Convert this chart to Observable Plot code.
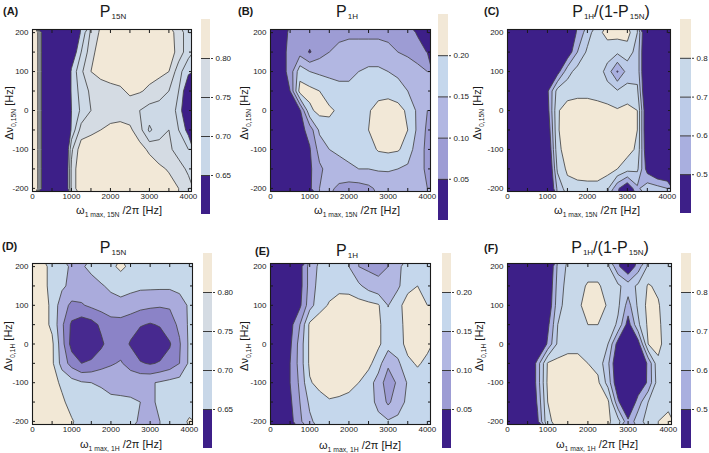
<!DOCTYPE html>
<html>
<head>
<meta charset="utf-8">
<script src="https://cdn.jsdelivr.net/npm/d3@7"></script>
<script src="https://cdn.jsdelivr.net/npm/@observablehq/plot@0.6"></script>
<style>
  body { margin: 0; background: #fff; }
  #root { position: relative; width: 709px; height: 453px; overflow: hidden; background: #fff;
          font-family: "Liberation Sans", Arial, sans-serif; color: #1a1a1a; }
  .box { position: absolute; }
  .lbl { position: absolute; white-space: nowrap; line-height: 1; }
  .sb { position: relative; top: 0.45em; font-size: 0.62em; }
  .tsb { position: relative; top: 0.3em; font-size: 8px; margin-left: 1px; }
</style>
</head>
<body>
<div id="root"></div>
<script>
// ---------- grid / ticks ----------
const xGrid = [0,250,500,750,1000,1250,1500,1750,2000,2250,2500,2750,3000,3250,3500,3750,4000];
const yGrid = [200,150,100,50,0,-50,-100,-150,-200];
const xTicks = [0,1000,2000,3000,4000];
const yTicks = [-200,-100,0,100,200];
const xMinor = [0,500,1000,1500,2000,2500,3000,3500,4000];
const yMinor = [-200,-150,-100,-50,0,50,100,150,200];

// ---------- contour levels ----------
const thrP15N = [0.65,0.70,0.75,0.80];
const thrP1H = [0.05,0.10,0.15,0.20];
const thrRatio = [0.5,0.6,0.7,0.8];

// ---------- colours ----------
const colP15N = ["#3d1f88","#c8d7e8","#cdd9e6","#d4dbe3","#f2e8d7"];
const colP15N_D = ["#47298f","#8b83c7","#aaabdc","#c6d8ea","#f2e8d6"];
const colP1H = ["#3d1f88","#9d9cd4","#b2b7e2","#c5d7ec","#f2e8d7"];
const colRatio = ["#3d1f88","#a9afdf","#bccbe8","#c8d8e9","#f2e8d6"];

// ---------- values (rows: y = 200 ... -200, columns: x = 0 ... 4000) ----------
const valuesA = [
  [1.00,0.62,0.40,0.45,0.55,0.66,0.76,0.81,0.84,0.85,0.85,0.85,0.85,0.84,0.82,0.78,0.72],
  [1.00,0.62,0.40,0.45,0.60,0.70,0.78,0.83,0.85,0.85,0.85,0.85,0.85,0.84,0.83,0.78,0.72],
  [1.00,0.62,0.40,0.45,0.66,0.74,0.80,0.82,0.83,0.83,0.83,0.83,0.82,0.82,0.80,0.72,0.66],
  [1.00,0.62,0.40,0.45,0.66,0.72,0.76,0.77,0.78,0.79,0.81,0.805,0.79,0.76,0.75,0.70,0.60],
  [1.00,0.62,0.40,0.45,0.65,0.71,0.75,0.77,0.78,0.78,0.77,0.75,0.73,0.74,0.74,0.68,0.58],
  [1.00,0.62,0.40,0.45,0.66,0.77,0.785,0.80,0.81,0.815,0.81,0.77,0.69,0.73,0.75,0.70,0.63],
  [1.00,0.62,0.40,0.45,0.74,0.83,0.84,0.85,0.85,0.85,0.84,0.82,0.79,0.77,0.76,0.73,0.70],
  [1.00,0.62,0.40,0.45,0.76,0.85,0.86,0.86,0.86,0.86,0.86,0.85,0.83,0.81,0.795,0.77,0.74],
  [1.00,0.62,0.40,0.45,0.76,0.85,0.86,0.86,0.86,0.86,0.86,0.86,0.85,0.84,0.82,0.80,0.77]
];
const valuesB = [
  [0.00,0.02,0.06,0.08,0.08,0.09,0.09,0.09,0.09,0.09,0.09,0.09,0.09,0.08,0.07,0.045,0.03],
  [0.00,0.02,0.07,0.08,0.045,0.08,0.10,0.11,0.12,0.12,0.12,0.12,0.11,0.10,0.09,0.07,0.048],
  [0.00,0.02,0.07,0.18,0.15,0.14,0.14,0.14,0.14,0.15,0.16,0.16,0.15,0.14,0.13,0.12,0.10],
  [0.00,0.02,0.05,0.22,0.215,0.20,0.17,0.16,0.16,0.16,0.17,0.18,0.18,0.17,0.15,0.13,0.11],
  [0.00,0.01,0.02,0.04,0.19,0.215,0.21,0.19,0.17,0.18,0.195,0.22,0.23,0.22,0.19,0.14,0.10],
  [0.00,0.01,0.02,0.03,0.07,0.16,0.18,0.18,0.17,0.17,0.20,0.23,0.24,0.23,0.20,0.14,0.09],
  [0.00,0.01,0.02,0.03,0.045,0.12,0.15,0.16,0.17,0.17,0.18,0.205,0.21,0.205,0.18,0.12,0.09],
  [0.00,0.01,0.02,0.03,0.04,0.09,0.12,0.13,0.14,0.15,0.15,0.155,0.155,0.15,0.14,0.11,0.095],
  [0.00,0.01,0.02,0.03,0.04,0.10,0.11,0.09,0.08,0.08,0.09,0.11,0.12,0.12,0.11,0.10,0.10]
];
const valuesC = [
  [0.3,0.3,0.3,0.3,0.3,0.3,0.35,0.52,0.65,0.77,0.83,0.84,0.84,0.70,0.30,0.3,0.3],
  [0.3,0.3,0.3,0.3,0.3,0.3,0.42,0.60,0.72,0.76,0.75,0.72,0.75,0.66,0.30,0.3,0.3],
  [0.3,0.3,0.3,0.3,0.3,0.45,0.66,0.74,0.76,0.76,0.66,0.49,0.64,0.66,0.30,0.3,0.3],
  [0.3,0.3,0.3,0.3,0.48,0.74,0.76,0.77,0.77,0.76,0.74,0.71,0.74,0.72,0.30,0.3,0.3],
  [0.3,0.3,0.3,0.3,0.45,0.79,0.84,0.85,0.85,0.84,0.83,0.81,0.83,0.80,0.35,0.3,0.3],
  [0.3,0.3,0.3,0.3,0.40,0.79,0.85,0.86,0.86,0.86,0.86,0.86,0.85,0.80,0.35,0.3,0.3],
  [0.3,0.3,0.3,0.3,0.35,0.77,0.85,0.86,0.86,0.86,0.86,0.85,0.84,0.78,0.38,0.3,0.3],
  [0.3,0.3,0.3,0.3,0.3,0.72,0.82,0.84,0.85,0.85,0.84,0.80,0.74,0.72,0.45,0.35,0.33],
  [0.3,0.3,0.3,0.3,0.3,0.62,0.76,0.77,0.77,0.77,0.72,0.52,0.40,0.58,0.66,0.64,0.60]
];
const valuesD = [
  [0.85,0.82,0.78,0.77,0.74,0.745,0.76,0.78,0.79,0.81,0.79,0.78,0.78,0.78,0.78,0.78,0.78],
  [0.85,0.82,0.78,0.76,0.735,0.73,0.735,0.745,0.76,0.77,0.765,0.76,0.76,0.76,0.76,0.77,0.78],
  [0.84,0.82,0.79,0.72,0.69,0.695,0.71,0.72,0.73,0.735,0.725,0.715,0.71,0.705,0.705,0.72,0.76],
  [0.84,0.82,0.79,0.71,0.64,0.62,0.63,0.66,0.68,0.68,0.67,0.655,0.645,0.655,0.68,0.71,0.76],
  [0.84,0.82,0.81,0.72,0.63,0.60,0.61,0.64,0.675,0.675,0.645,0.61,0.60,0.615,0.645,0.695,0.76],
  [0.84,0.82,0.81,0.73,0.68,0.65,0.66,0.68,0.695,0.705,0.68,0.655,0.645,0.655,0.67,0.70,0.76],
  [0.84,0.83,0.82,0.79,0.77,0.755,0.75,0.745,0.735,0.73,0.735,0.74,0.745,0.755,0.765,0.77,0.77],
  [0.84,0.83,0.83,0.81,0.78,0.77,0.77,0.765,0.76,0.76,0.755,0.75,0.745,0.755,0.765,0.775,0.78],
  [0.84,0.83,0.83,0.82,0.805,0.78,0.775,0.77,0.77,0.765,0.76,0.745,0.74,0.75,0.77,0.785,0.805]
];
const valuesE = [
  [0.00,0.01,0.02,0.03,0.12,0.16,0.17,0.17,0.15,0.10,0.09,0.09,0.10,0.14,0.17,0.17,0.16],
  [0.00,0.01,0.02,0.03,0.12,0.17,0.18,0.19,0.185,0.16,0.13,0.11,0.11,0.14,0.19,0.20,0.17],
  [0.00,0.01,0.02,0.04,0.13,0.18,0.205,0.215,0.22,0.22,0.215,0.205,0.148,0.19,0.215,0.22,0.20],
  [0.00,0.01,0.03,0.10,0.21,0.23,0.235,0.235,0.235,0.23,0.225,0.21,0.17,0.18,0.22,0.23,0.21],
  [0.00,0.01,0.04,0.12,0.21,0.235,0.24,0.24,0.24,0.235,0.23,0.21,0.17,0.18,0.215,0.225,0.21],
  [0.00,0.01,0.05,0.12,0.21,0.225,0.235,0.235,0.23,0.225,0.215,0.17,0.11,0.14,0.19,0.205,0.19],
  [0.00,0.01,0.05,0.11,0.195,0.215,0.225,0.225,0.215,0.20,0.17,0.13,0.07,0.11,0.155,0.18,0.18],
  [0.00,0.01,0.04,0.10,0.16,0.18,0.195,0.19,0.185,0.18,0.165,0.14,0.09,0.13,0.16,0.175,0.18],
  [0.00,0.01,0.03,0.09,0.14,0.17,0.18,0.18,0.18,0.175,0.17,0.16,0.155,0.16,0.17,0.175,0.175]
];
const valuesF = [
  [0.3,0.3,0.3,0.3,0.35,0.62,0.72,0.75,0.76,0.76,0.72,0.52,0.40,0.55,0.72,0.74,0.74],
  [0.3,0.3,0.3,0.3,0.38,0.64,0.74,0.77,0.81,0.81,0.77,0.72,0.65,0.72,0.81,0.78,0.74],
  [0.3,0.3,0.3,0.3,0.40,0.66,0.75,0.78,0.84,0.84,0.79,0.72,0.56,0.72,0.83,0.81,0.73],
  [0.3,0.3,0.3,0.3,0.47,0.70,0.75,0.77,0.80,0.80,0.77,0.68,0.45,0.68,0.82,0.82,0.74],
  [0.3,0.3,0.3,0.3,0.52,0.72,0.76,0.77,0.78,0.77,0.70,0.45,0.30,0.45,0.80,0.83,0.74],
  [0.3,0.3,0.3,0.55,0.81,0.83,0.84,0.83,0.80,0.77,0.62,0.38,0.30,0.38,0.52,0.78,0.74],
  [0.3,0.3,0.3,0.55,0.82,0.84,0.85,0.85,0.84,0.82,0.66,0.40,0.30,0.40,0.52,0.76,0.75],
  [0.3,0.3,0.3,0.52,0.80,0.84,0.85,0.85,0.85,0.84,0.82,0.52,0.35,0.55,0.70,0.76,0.78],
  [0.3,0.3,0.3,0.48,0.78,0.83,0.84,0.85,0.85,0.84,0.82,0.74,0.52,0.66,0.74,0.80,0.82]
];

// ---------- texts ----------
const panelLetters = ["(A)","(B)","(C)","(D)","(E)","(F)"];
const titleP15N = 'P<span class="tsb">15N</span>';
const titleP1H = 'P<span class="tsb">1H</span>';
const titleRatio = 'P<span class="tsb">1H</span>/(1-P<span class="tsb">15N</span>)';
const xLabel15N = 'ω<span class="sb">1 max, 15N</span> /2π [Hz]';
const xLabel1H = 'ω<span class="sb">1 max, 1H</span> /2π [Hz]';
const yLabel15N = 'Δν<span class="sb">0,15N</span> [Hz]';
const yLabel1H = 'Δν<span class="sb">0,1H</span> [Hz]';

// ---------- layout ----------
const root = document.getElementById("root");
const styleBase = {fontFamily: '"Liberation Sans", Arial, sans-serif', fontSize: "8px", color: "#1a1a1a", background: "transparent", overflow: "visible"};

function place(el, left, top, w, h) {
  const d = document.createElement("div");
  d.className = "box";
  d.style.left = left + "px"; d.style.top = top + "px";
  d.style.width = w + "px"; d.style.height = h + "px";
  el.style.display = "block";
  d.appendChild(el);
  root.appendChild(d);
}
function label(html, x, y, size, opts = {}) {
  const d = document.createElement("div");
  d.className = "lbl";
  d.innerHTML = html;
  d.style.left = x + "px"; d.style.top = y + "px";
  d.style.fontSize = size + "px";
  if (opts.bold) d.style.fontWeight = "bold";
  let t = opts.left ? "translate(0,-50%)" : "translate(-50%,-50%)";
  if (opts.rotate) t += " rotate(-90deg)";
  d.style.transform = t;
  root.appendChild(d);
}

const gx = xGrid[1] - xGrid[0], gy = yGrid[0] - yGrid[1];
const fmtInt = d => String(d);

function drawPanel(p) {
  const svg = Plot.plot({
    width: p.box[2], height: p.box[3],
    marginLeft: p.m[0], marginRight: p.m[1], marginTop: p.m[2], marginBottom: p.m[3],
    x: {domain: [0, 4080], label: null},
    y: {domain: [-208, 208], label: null},
    color: {type: "threshold", domain: p.thr, range: p.colors},
    style: styleBase,
    marks: [
      Plot.frame({fill: p.colors[0], stroke: null}),
      Plot.contour(p.values.flat(), {
        width: xGrid.length, height: yGrid.length,
        x1: xGrid[0] - gx / 2, x2: xGrid[xGrid.length - 1] + gx / 2,
        y1: yGrid[0] + gy / 2, y2: yGrid[yGrid.length - 1] - gy / 2,
        fill: d => d, thresholds: p.thr,
        stroke: "#454545", strokeWidth: 0.85, clip: true
      }),
      Plot.frame({stroke: "#1a1a1a", strokeWidth: 1.1}),
      Plot.axisX({ticks: xMinor, anchor: "bottom", tickSize: -3, tickFormat: () => "", label: null}),
      Plot.axisX({ticks: xMinor, anchor: "top", tickSize: -3, tickFormat: () => "", label: null}),
      Plot.axisY({ticks: yMinor, anchor: "left", tickSize: -3, tickFormat: () => "", label: null}),
      Plot.axisY({ticks: yMinor, anchor: "right", tickSize: -3, tickFormat: () => "", label: null}),
      Plot.axisX({ticks: xTicks, anchor: "bottom", tickSize: 0, tickPadding: 2, tickFormat: fmtInt, label: null}),
      Plot.axisY({ticks: yTicks, anchor: "left", tickSize: 0, tickPadding: 4, tickFormat: fmtInt, label: null})
    ]
  });
  place(svg, p.box[0], p.box[1], p.box[2], p.box[3]);
}

function drawBar(b) {
  const s = b.thr[1] - b.thr[0];
  const edges = [b.thr[0] - s, ...b.thr, b.thr[b.thr.length - 1] + s];
  const bands = b.colors.map((c, i) => ({lo: edges[i], hi: edges[i + 1], c}));
  const svg = Plot.plot({
    width: b.w + 34, height: b.h,
    marginLeft: 0, marginRight: 34, marginTop: 0, marginBottom: 0,
    y: {domain: [edges[0], edges[edges.length - 1]], label: null},
    style: styleBase,
    marks: [
      Plot.rect(bands, {y1: "lo", y2: "hi", fill: "c"}),
      Plot.ruleY(b.thr, {stroke: "#3a3a3a", strokeWidth: 1}),
      Plot.axisY({anchor: "right", ticks: b.thr, tickSize: 2, tickPadding: 3, tickFormat: d3.format(b.fmt), label: null, stroke: "#3a3a3a"})
    ]
  });
  place(svg, b.x, b.y, b.w + 34, b.h);
}

const panels = [
  {box: [0, 0, 200, 226],   m: [32, 9, 29, 35], thr: thrP15N, colors: colP15N,   values: valuesA},
  {box: [235, 0, 200, 226], m: [35, 5, 29, 35], thr: thrP1H,  colors: colP1H,    values: valuesB},
  {box: [469, 0, 206, 226], m: [38, 5, 29, 35], thr: thrRatio, colors: colRatio, values: valuesC},
  {box: [0, 226, 200, 227],   m: [32, 8, 37, 29], thr: thrP15N, colors: colP15N_D, values: valuesD},
  {box: [235, 226, 200, 227], m: [35, 5, 37, 29], thr: thrP1H,  colors: colP1H,    values: valuesE},
  {box: [469, 226, 206, 227], m: [38, 4, 37, 29], thr: thrRatio, colors: colRatio, values: valuesF}
];
panels.forEach(drawPanel);

const bars = [
  {x: 201, y: 19,  w: 9,  h: 195, thr: thrP15N, colors: colP15N, fmt: ".2f"},
  {x: 438, y: 14,  w: 10, h: 206, thr: thrP1H,  colors: colP1H,  fmt: ".2f"},
  {x: 680, y: 19,  w: 11, h: 194, thr: thrRatio, colors: colRatio, fmt: ".1f"},
  {x: 203, y: 253, w: 9,  h: 195, thr: thrP15N, colors: colP15N, fmt: ".2f"},
  {x: 442, y: 253, w: 9,  h: 195, thr: thrP1H,  colors: colP1H,  fmt: ".2f"},
  {x: 681, y: 253, w: 10, h: 195, thr: thrRatio, colors: colRatio, fmt: ".1f"}
];
bars.forEach(drawBar);

// panel letters
label(panelLetters[0], 3, 11, 11, {bold: true, left: true});
label(panelLetters[1], 238, 11, 11, {bold: true, left: true});
label(panelLetters[2], 484, 11, 11, {bold: true, left: true});
label(panelLetters[3], 2, 246, 11, {bold: true, left: true});
label(panelLetters[4], 255, 251, 11, {bold: true, left: true});
label(panelLetters[5], 484, 248, 11, {bold: true, left: true});

// titles
label(titleP15N, 113, 12, 16);
label(titleP1H, 347, 12, 16);
label(titleRatio, 611, 12, 16);
label(titleP15N, 113, 248, 16);
label(titleP1H, 347, 251, 16);
label(titleRatio, 610, 248, 16);

// x labels
label(xLabel15N, 119, 210, 11);
label(xLabel15N, 357, 210, 11);
label(xLabel15N, 597, 210, 11);
label(xLabel1H, 121, 444, 11);
label(xLabel1H, 360, 445, 11);
label(xLabel1H, 597, 444, 11);

// y labels
label(yLabel15N, 9, 113, 11, {rotate: true});
label(yLabel15N, 244, 113, 11, {rotate: true});
label(yLabel15N, 477, 113, 11, {rotate: true});
label(yLabel1H, 8, 346, 11, {rotate: true});
label(yLabel1H, 244, 346, 11, {rotate: true});
label(yLabel1H, 479, 346, 11, {rotate: true});
</script>
</body>
</html>
